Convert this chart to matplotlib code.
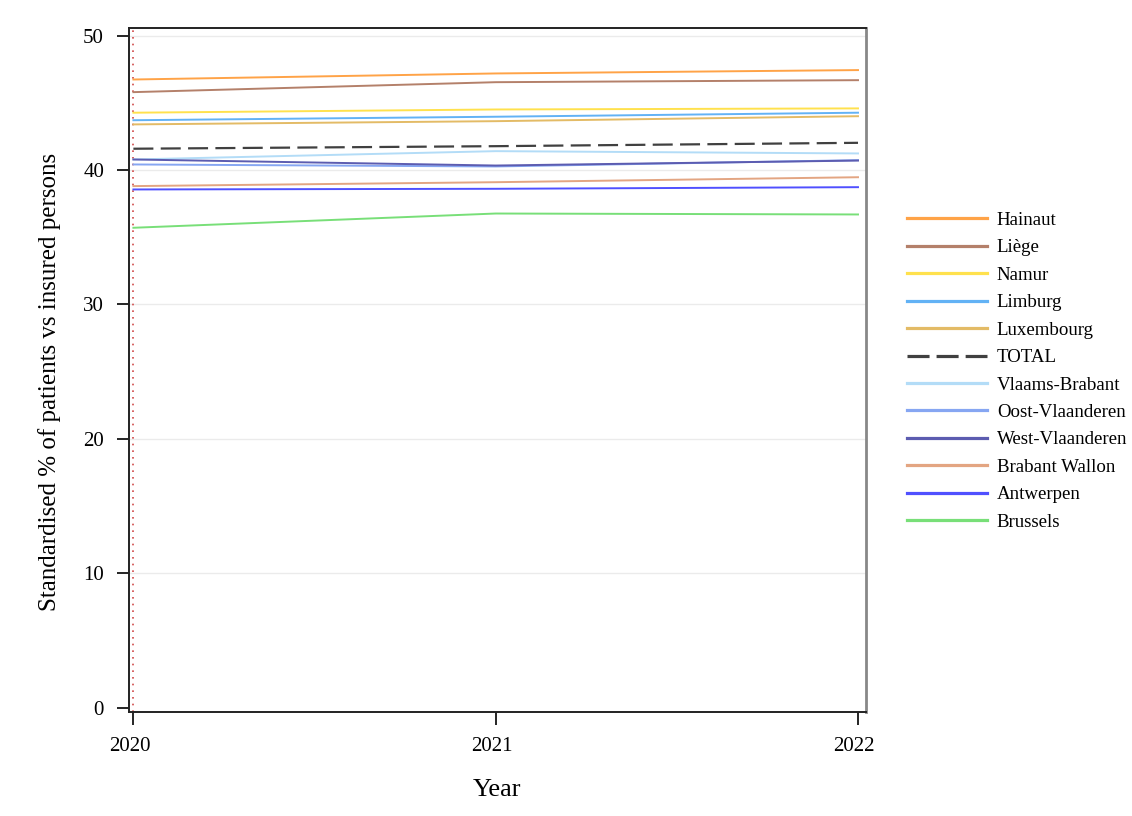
import matplotlib
matplotlib.use('Agg')
import matplotlib.pyplot as plt
import matplotlib.transforms as mtransforms

plt.rcParams['font.family'] = ['Liberation Serif', 'DejaVu Serif']

years = [2020, 2021, 2022]

regions = ['Hainaut', 'Liège', 'Namur', 'Limburg', 'Luxembourg', 'TOTAL',
           'Vlaams-Brabant', 'Oost-Vlaanderen', 'West-Vlaanderen',
           'Brabant Wallon', 'Antwerpen', 'Brussels']

hainaut = [46.73, 47.18, 47.43]
liege = [45.79, 46.53, 46.68]
namur = [44.26, 44.50, 44.58]
limburg = [43.70, 43.96, 44.26]
luxembourg = [43.39, 43.63, 44.00]
total = [41.58, 41.77, 42.02]
vlaams_brabant = [40.78, 41.40, 41.23]
oost_vlaanderen = [40.41, 40.26, 40.73]
west_vlaanderen = [40.78, 40.33, 40.70]
brabant_wallon = [38.80, 39.09, 39.46]
antwerpen = [38.55, 38.60, 38.72]
brussels = [35.70, 36.76, 36.69]

series = [hainaut, liege, namur, limburg, luxembourg, total,
          vlaams_brabant, oost_vlaanderen, west_vlaanderen,
          brabant_wallon, antwerpen, brussels]

colors = ['#ffa347', '#b4806a', '#ffe14d', '#62b2f5', '#e3bb66', '#404040',
          '#b3dcf7', '#86a6f2', '#5c5cb0', '#e3a582', '#5050ff', '#78df78']

fig = plt.figure(figsize=(11.32, 8.16), dpi=100)
ax = fig.add_axes([0.114, 0.1275, 0.651, 0.838])

# grid + reference line at first year
for v in [10, 20, 30, 40, 50]:
    ax.axhline(v, color='#ebebeb', linewidth=1, zorder=0)
ax.axvline(2020, color='#d04848', linestyle=(0, (1, 3)), linewidth=1.2, zorder=1)

for name, vals, c in zip(regions, series, colors):
    if name == 'TOTAL':
        ax.plot(years, vals, color=c, linewidth=1.6, linestyle=(0, (9, 3.3)), label=name, zorder=3)
    else:
        ax.plot(years, vals, color=c, linewidth=1.4, label=name, zorder=2)

ax.set_xlim(2019.988, 2022.022)
ax.set_ylim(-0.32, 50.55)
ax.set_xticks(years)
ax.set_xticklabels([str(y) for y in years])
ax.set_yticks([0, 10, 20, 30, 40, 50])
ax.tick_params(axis='both', direction='out', length=9, width=1.2, labelsize=15)
ax.tick_params(axis='x', pad=9)
ax.tick_params(axis='y', pad=9)

# year labels sit a little left of their ticks in the original
shift = mtransforms.ScaledTranslation(-4 / 100, 0, fig.dpi_scale_trans)
for lbl in ax.get_xticklabels():
    lbl.set_transform(lbl.get_transform() + shift)

for s in ['left', 'bottom', 'top']:
    ax.spines[s].set_linewidth(1.4)
    ax.spines[s].set_color('#222222')
ax.spines['right'].set_linewidth(2)
ax.spines['right'].set_color('#888888')

ax.set_xlabel('Year', fontsize=19, labelpad=16.5)
ax.set_ylabel('Standardised % of patients vs insured persons', fontsize=18, labelpad=16)
ax.yaxis.label.set_y(0.482)

leg = fig.legend(loc='center left', bbox_to_anchor=(0.7933, 0.545), frameon=False,
                 fontsize=13.6, handlelength=4.2, handletextpad=0.53, labelspacing=0.54,
                 borderpad=0)
for h, name in zip(leg.get_lines(), regions):
    h.set_linewidth(2.3)
    if name == 'TOTAL':
        h.set_linestyle((0, (6.9, 2.2)))

fig.savefig('out.png', dpi=100)
